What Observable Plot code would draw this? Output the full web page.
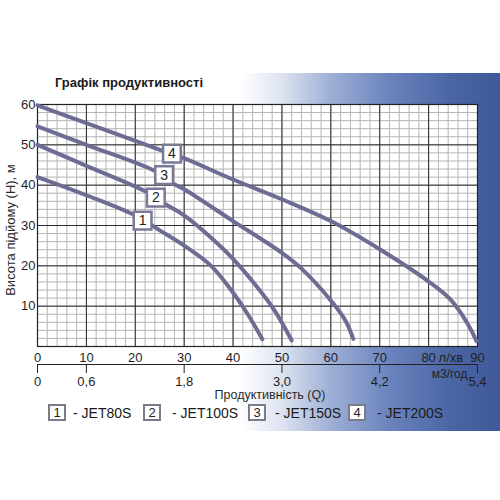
<!DOCTYPE html>
<html>
<head>
<meta charset="utf-8">
<script src="https://cdn.jsdelivr.net/npm/d3@7"></script>
<script src="https://cdn.jsdelivr.net/npm/@observablehq/plot@0.6"></script>
<style>
  body { margin: 0; background: #fff; font-family: "Liberation Sans", Arial, sans-serif; }
  #wrap { position: relative; width: 500px; height: 500px; overflow: hidden; }
  #bg { position: absolute; left: 0; top: 73px; width: 500px; height: 358px;
        background: linear-gradient(to right, #ffffff 0%, #ffffff 48%, #dfe5f1 56%, #9fb0d6 66%, #6a83bd 78%, #4c66a5 90%, #3f5898 100%); }
  #chart { position: absolute; left: 0; top: 60px; }
  .t { position: absolute; color: #1a1a1a; white-space: nowrap; }
  #title { left: 55px; top: 75px; font-size: 13px; font-weight: bold; }
  #ytitle { left: 10px; top: 230px; font-size: 13px; transform: translate(-50%, -50%) rotate(-90deg); color: #2a2a2a; }
  #xtitle { left: 270px; top: 395px; font-size: 12.5px; transform: translate(-50%, -50%); color: #2a2a2a; }
  .lbox { position: absolute; top: 404px; width: 14px; height: 13px; border: 2.5px solid #7b7b8c; background: #fff;
          font-size: 13px; line-height: 13px; text-align: center; color: #222; }
  .ltxt { position: absolute; top: 405px; font-size: 14px; color: #1a1a1a; }
</style>
</head>
<body>
<div id="wrap">
  <div id="bg"></div>
  <div id="chart"></div>
  <div class="t" id="title">Графік продуктивності</div>
  <div class="t" id="ytitle">Висота підйому (H), м</div>
  <div class="t" id="xtitle">Продуктивність (Q)</div>
  <div id="legend"></div>
</div>
<script>
// ---- data ----
const models = ["JET80S", "JET100S", "JET150S", "JET200S"];
const curveNums = ["1", "2", "3", "4"];

const q1 = [0, 10, 20, 25, 30, 35.5, 39.6, 43, 46];
const h1 = [42, 37.5, 32.5, 28.8, 25, 20, 14, 8, 1.8];
const q2 = [0, 10, 22.5, 26, 30, 36.2, 40, 45, 48.5, 52];
const h2 = [50, 44.8, 38.2, 35.4, 32.5, 26.2, 21.7, 14.6, 8.9, 1.5];
const q3 = [0, 10, 24, 27.6, 30, 40, 50, 54, 60, 63, 64.6];
const h3 = [54.6, 50, 43.5, 40.5, 39, 31.1, 23.2, 19.3, 11.4, 6.4, 1.9];
const q4 = [0, 10, 25.6, 29.7, 40, 50, 60, 70, 80, 84.5, 88, 89.8];
const h4 = [59.8, 55.4, 48.5, 46.8, 41.4, 36.5, 31.1, 24.1, 16.1, 11.6, 5.6, 1.3];

// label box positions (on the curves)
const labelQ = [21.5, 24.2, 25.9, 27.5];
const labelH = [31.2, 36.9, 42.5, 47.8];

// axes
const litreTicks = [0, 10, 20, 30, 40, 50, 60, 70, 80, 90];
const m3Ticks = [0, 10, 30, 50, 70, 90];
const m3Labels = ["0", "0,6", "1,8", "3,0", "4,2", "5,4"];
const heightTicks = [10, 20, 30, 40, 50, 60];
const minorQ = d3.range(0, 91, 2);
const minorH = d3.range(0, 61, 2);
const unitLitre = "л/хв";
const unitM3 = "м3/год";

// ---- build ----
const series = [[q1, h1], [q2, h2], [q3, h3], [q4, h4]];
const rows = [];
series.forEach(([qs, hs], i) => qs.forEach((q, j) => rows.push({model: models[i], q, h: hs[j]})));
const labels = curveNums.map((n, i) => ({n, q: labelQ[i], h: labelH[i]}));

const ink = "#1f1f1f";
const chart = Plot.plot({
  width: 500,
  height: 380,
  marginTop: 44,
  marginBottom: 94,
  marginLeft: 37,
  marginRight: 23,
  style: {background: "transparent", fontFamily: "'Liberation Sans', Arial, sans-serif", color: ink},
  x: {domain: [0, 90], label: null},
  y: {domain: [0, 60], label: null},
  marks: [
    Plot.frame({fill: "white", stroke: null}),
    Plot.ruleX(minorQ, {stroke: "#b4b4b4", strokeWidth: 1}),
    Plot.ruleY(minorH, {stroke: "#b4b4b4", strokeWidth: 1}),
    Plot.ruleX(litreTicks, {stroke: "#2a2a2a", strokeWidth: 1}),
    Plot.ruleY([0, ...heightTicks], {stroke: "#2a2a2a", strokeWidth: 1}),
    Plot.frame({stroke: "#222", strokeWidth: 1.2}),
    Plot.line(rows, {x: "q", y: "h", z: "model", curve: "catmull-rom", stroke: "#6d6d93", strokeWidth: 4, strokeLinecap: "round"}),
    Plot.dot(labels, {x: "q", y: "h", symbol: "square", r: 10, fill: "white", stroke: "#7a7a96", strokeWidth: 2.5}),
    Plot.text(labels, {x: "q", y: "h", text: "n", fontSize: 14, fill: "#222"}),
    Plot.axisY(heightTicks, {anchor: "left", tickSize: 0, tickPadding: 2, fontSize: 13, label: null, fill: ink}),
    Plot.axisX(litreTicks, {anchor: "bottom", tickSize: 0, tickPadding: 6, fontSize: 13, label: null, fill: ink}),
    Plot.text([unitLitre], {x: 80, frameAnchor: "bottom", text: d => d, dy: 15, dx: 10, textAnchor: "start", fontSize: 13, fill: ink}),
    Plot.ruleY([0], {dy: 18, stroke: "#222", strokeWidth: 1}),
    Plot.axisX(m3Ticks, {anchor: "bottom", dy: 18, tickSize: 9, tickPadding: 3, fontSize: 13, label: null,
      tickFormat: d => m3Labels[m3Ticks.indexOf(d)], stroke: "#222", fill: ink}),
    Plot.text([unitM3], {x: 90, frameAnchor: "bottom", text: d => d, dy: 31, dx: -10, textAnchor: "end", fontSize: 12, fill: ink})
  ]
});
document.getElementById("chart").appendChild(chart);

// legend
const legend = document.getElementById("legend");
const boxLeft = [48, 143, 248, 348];
const txtLeft = [73, 172, 275, 377];
models.forEach((m, i) => {
  const b = document.createElement("div");
  b.className = "lbox"; b.style.left = boxLeft[i] + "px"; b.textContent = curveNums[i];
  legend.appendChild(b);
  const t = document.createElement("div");
  t.className = "ltxt"; t.style.left = txtLeft[i] + "px"; t.textContent = "- " + m;
  legend.appendChild(t);
});
</script>
</body>
</html>
